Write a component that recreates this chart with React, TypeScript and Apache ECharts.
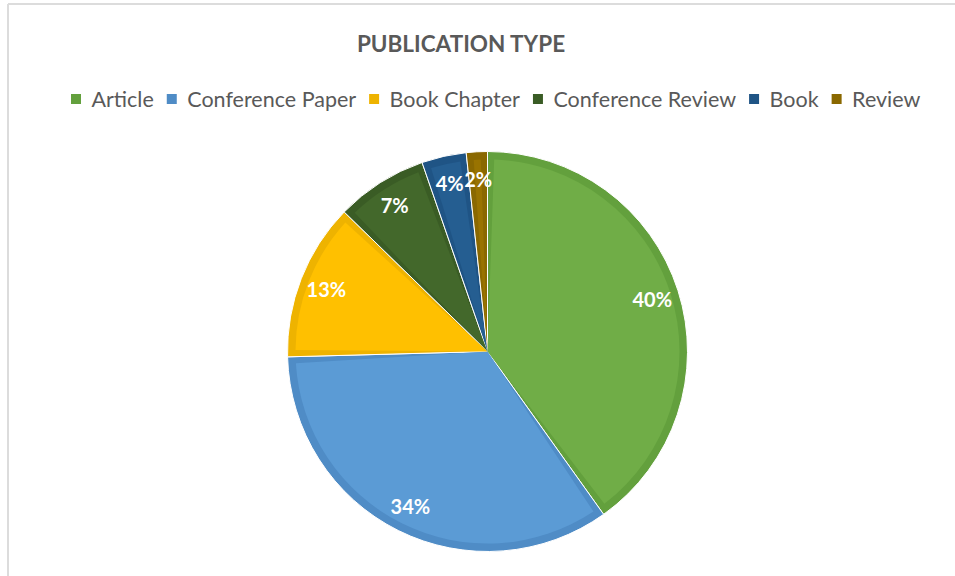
import React, { useEffect, useRef } from "react";
import * as echarts from "echarts";

const categories = ["Article", "Conference Paper", "Book Chapter", "Conference Review", "Book", "Review"];
const values = [40.1, 34.4, 12.7, 7.4, 3.6, 1.7];
const fillColors = ["#70AD47", "#5B9BD5", "#FFC000", "#43682B", "#255E91", "#997300"];
const bandColors = ["#63A03D", "#4F8CC6", "#EEB300", "#3A5C25", "#1F5485", "#8A6800"];
const titleText = "PUBLICATION TYPE";

export default function App() {
  const ref = useRef<HTMLDivElement>(null);
  useEffect(() => {
    if (!ref.current) return;
    const chart = echarts.init(ref.current, undefined, { renderer: "svg" });
    const center = [487.5, 351.5];
    const band = categories.map((c, i) => ({ name: c, value: values[i], itemStyle: { color: bandColors[i] } }));
    const fill = categories.map((c, i) => ({ name: c, value: values[i], itemStyle: { color: fillColors[i] } }));
    const lab = categories.map((c, i) => ({ name: c, value: values[i], itemStyle: { color: "rgba(0,0,0,0)" } }));
    chart.setOption({
      animation: false,
      color: fillColors,
      title: {
        text: titleText,
        left: 456,
        textAlign: "center",
        top: 27,
        textStyle: { fontFamily: "Lato", fontWeight: "bold", fontSize: 22.5, color: "#595959" },
      },
      legend: {
        data: categories,
        top: 83,
        left: 64,
        icon: "rect",
        itemWidth: 12,
        itemHeight: 12,
        itemGap: 11,
        textStyle: { fontFamily: "Lato", fontSize: 21.5, color: "#595959", padding: [0, 0, 0, 4.5] },
      },
      graphic: [
        { type: "line", shape: { x1: 8, y1: 4, x2: 955, y2: 4 }, style: { stroke: "#DCDCDC", lineWidth: 2 } },
        { type: "line", shape: { x1: 8, y1: 4, x2: 8, y2: 576 }, style: { stroke: "#DCDCDC", lineWidth: 2 } },
      ],
      series: [
        {
          type: "pie",
          center,
          radius: [0, 200],
          startAngle: 90,
          clockwise: true,
          data: band,
          label: { show: false },
          labelLine: { show: false },
          itemStyle: { borderColor: "#FFFFFF", borderWidth: 1 },
          silent: true,
        },
        {
          type: "pie",
          center,
          radius: [0, 192],
          startAngle: 90,
          clockwise: true,
          padAngle: 4,
          data: fill,
          label: { show: false },
          labelLine: { show: false },
          silent: true,
        },
        {
          type: "pie",
          center,
          radius: [134, 206],
          startAngle: 90,
          clockwise: true,
          data: lab,
          silent: true,
          labelLine: { show: false },
          label: {
            show: true,
            position: "inside",
            formatter: (p: any) => Math.round(p.percent) + "%",
            fontFamily: "Lato",
            fontWeight: "bold",
            fontSize: 20,
            color: "#FFFFFF",
          },
        },
      ],
    });
    return () => chart.dispose();
  }, []);
  return <div ref={ref} style={{ position: "absolute", left: 0, top: 0, width: 955, height: 576, background: "#FFFFFF" }} />;
}
